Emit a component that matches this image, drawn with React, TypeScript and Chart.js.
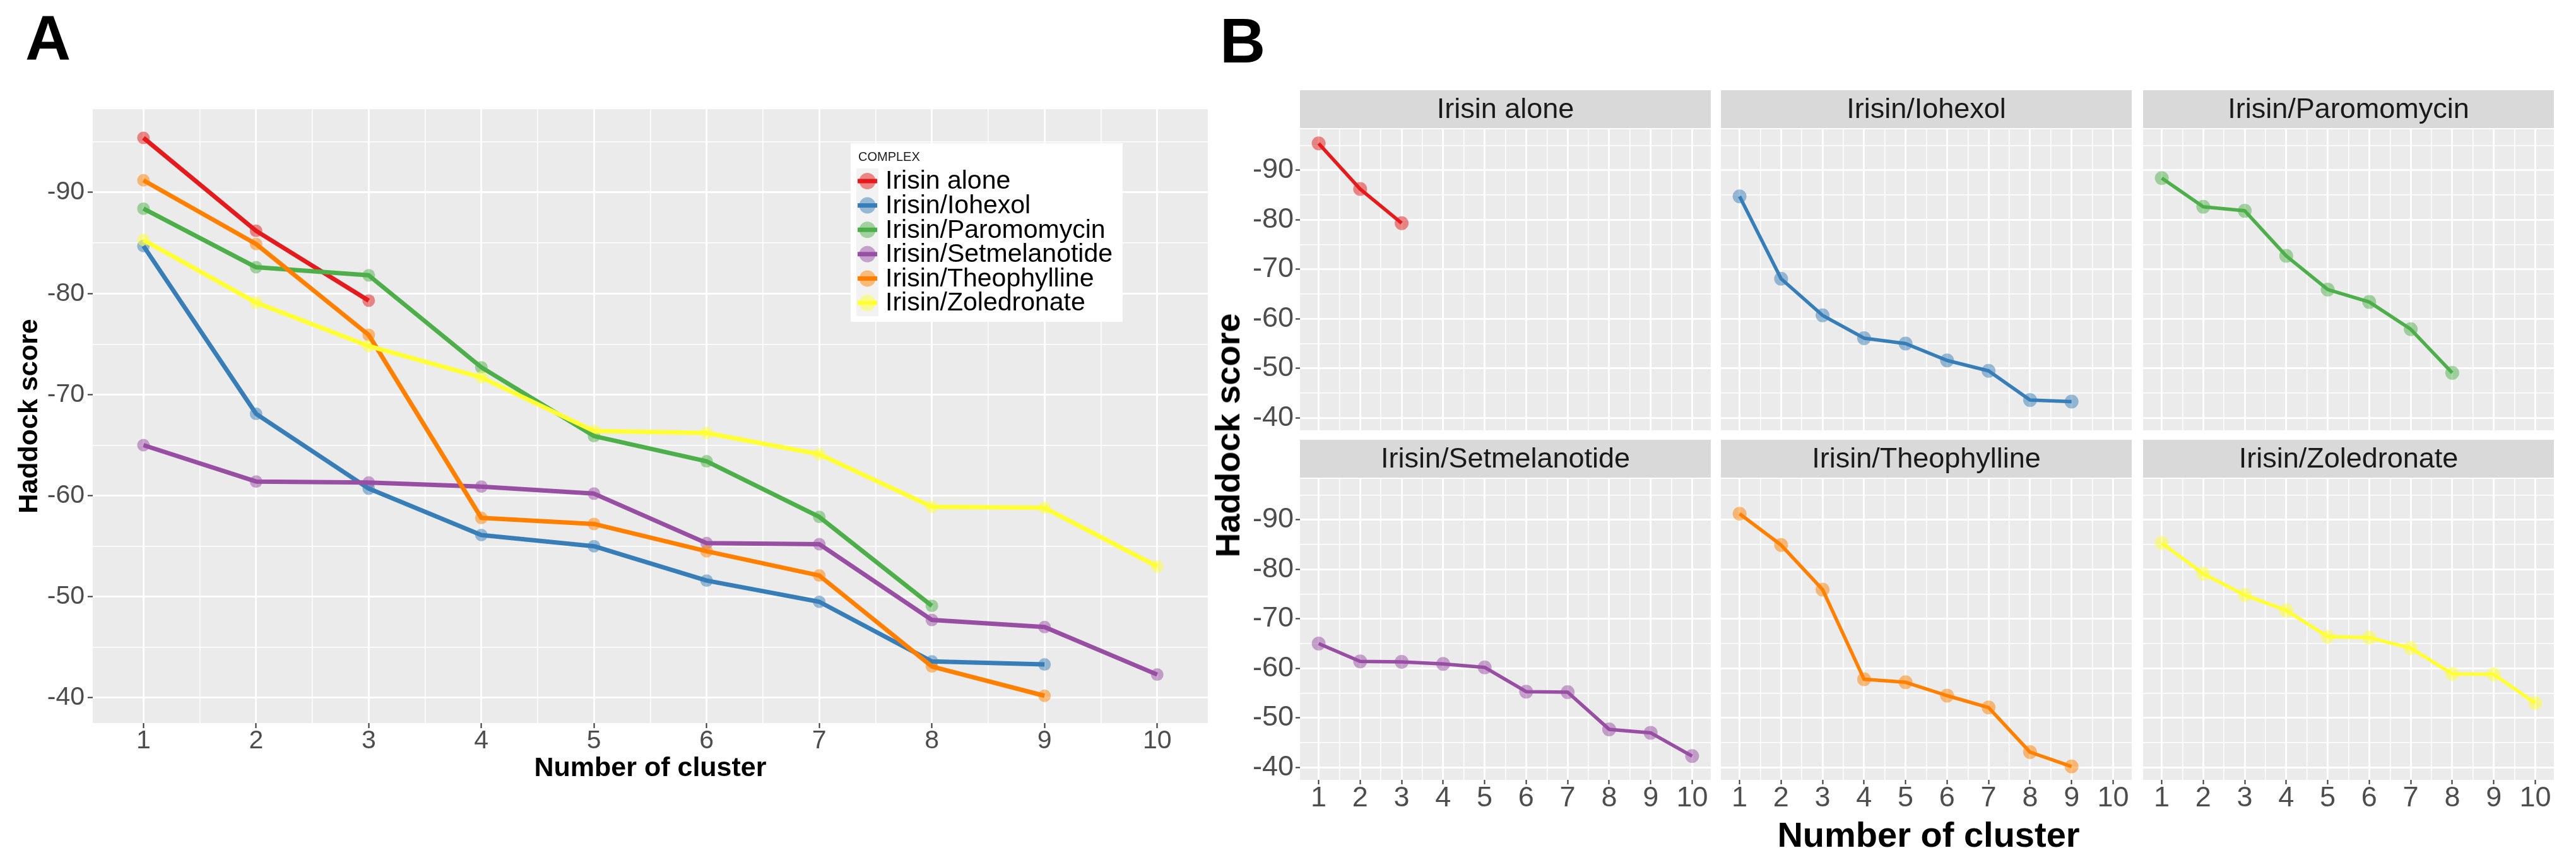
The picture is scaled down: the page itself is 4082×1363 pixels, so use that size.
import React, { useEffect, useRef } from 'react';
import { Chart, registerables } from 'chart.js';

Chart.register(...registerables);

// ---------------- data ----------------
const clusters = [1, 2, 3, 4, 5, 6, 7, 8, 9, 10];
const complexNames = [
  'Irisin alone',
  'Irisin/Iohexol',
  'Irisin/Paromomycin',
  'Irisin/Setmelanotide',
  'Irisin/Theophylline',
  'Irisin/Zoledronate',
];
const aloneScores = [-95.4, -86.2, -79.3];
const iohexolScores = [-84.7, -68.1, -60.7, -56.1, -55.0, -51.6, -49.5, -43.6, -43.3];
const paromomycinScores = [-88.4, -82.6, -81.8, -72.7, -65.9, -63.4, -57.9, -49.1];
const setmelanotideScores = [-65.0, -61.4, -61.3, -60.9, -60.2, -55.3, -55.2, -47.7, -47.0, -42.3];
const theophyllineScores = [-91.2, -84.9, -75.9, -57.8, -57.2, -54.5, -52.1, -43.1, -40.2];
const zoledronateScores = [-85.3, -79.1, -74.8, -71.7, -66.4, -66.2, -64.1, -58.9, -58.8, -53.0];

const xTickValues = [1, 1.5, 2, 2.5, 3, 3.5, 4, 4.5, 5, 5.5, 6, 6.5, 7, 7.5, 8, 8.5, 9, 9.5, 10];
const xMajorTicks = [1, 2, 3, 4, 5, 6, 7, 8, 9, 10];
const yTickValues = [-95, -90, -85, -80, -75, -70, -65, -60, -55, -50, -45, -40];
const yMajorTicks = [-90, -80, -70, -60, -50, -40];

const legendTitle = 'COMPLEX';
const xTitleText = 'Number of cluster';
const yTitleText = 'Haddock score';
const panelLetters = ['A', 'B'];

// ---------------- styling ----------------
const FONT = '"Liberation Sans", Arial, Helvetica, sans-serif';
const seriesScores = [aloneScores, iohexolScores, paromomycinScores, setmelanotideScores, theophyllineScores, zoledronateScores];
const seriesColors = ['#E41A1C', '#377EB8', '#4DAF4A', '#984EA3', '#FF7F00', '#FFFF33'];

const X_MIN = 0.55;
const X_MAX = 10.45;
const Y_MIN = -98.24;
const Y_MAX = -37.5;

const PAGE_W = 4082;
const PAGE_H = 1363;

// panel A layout
const A_CANVAS_W = 1960;
const A_LEFT = 147;
const A_TOP = 173;
const A_RIGHT = 1914;
const A_BOTTOM = 1146;

// panel B layout
const COL_LEFTS = [2060, 2727, 3396];
const ROW_TOPS = [205, 759];
const PANEL_W = 656;
const PANEL_H = 477;
const STRIP_H = 60;
const STRIP_GAP = 2;
const FACET_YAXIS_W = 120;
const FACET_XAXIS_H = 62;
const FACET_PAD_R = 6;

function withAlpha(hex: string, a: number) {
  const n = parseInt(hex.slice(1), 16);
  return `rgba(${(n >> 16) & 255},${(n >> 8) & 255},${n & 255},${a})`;
}

function toPoints(values: number[]) {
  return values.map((v, i) => ({ x: clusters[i], y: v }));
}

const isMajorX = (v: any) => xMajorTicks.includes(Number(v));
const isMajorY = (v: any) => yMajorTicks.includes(Number(v));

interface AxisStyle {
  tickSize: number;
  tickLen: number;
  xPad: number;
  yPad: number;
  showX: boolean;
  showY: boolean;
  xAxisH: number;
  yAxisW: number;
  xTitle?: any;
  yTitle?: any;
}

function buildScales(s: AxisStyle) {
  const tickFont = { family: FONT, size: s.tickSize, lineHeight: 1 };
  return {
    x: {
      type: 'linear',
      min: X_MIN,
      max: X_MAX,
      bounds: 'data',
      afterBuildTicks: (scale: any) => {
        scale.ticks = xTickValues.map((v) => ({ value: v }));
      },
      afterFit: (scale: any) => {
        scale.height = s.xAxisH;
      },
      ticks: {
        display: s.showX,
        autoSkip: false,
        maxRotation: 0,
        minRotation: 0,
        padding: s.xPad,
        color: '#4D4D4D',
        font: tickFont,
        callback: (v: any) => (isMajorX(v) ? String(v) : ''),
      },
      grid: {
        color: '#FFFFFF',
        lineWidth: (c: any) => (isMajorX(c.tick?.value) ? 3 : 1.5),
        drawTicks: s.showX,
        tickLength: s.tickLen,
        tickWidth: 2,
        tickColor: (c: any) => (isMajorX(c.tick?.value) ? '#333333' : 'rgba(0,0,0,0)'),
      },
      border: { display: false },
      title: s.xTitle || { display: false },
    },
    y: {
      type: 'linear',
      reverse: true,
      min: Y_MIN,
      max: Y_MAX,
      bounds: 'data',
      afterBuildTicks: (scale: any) => {
        scale.ticks = yTickValues.map((v) => ({ value: v }));
      },
      afterFit: (scale: any) => {
        scale.width = s.yAxisW;
      },
      ticks: {
        display: s.showY,
        autoSkip: false,
        padding: s.yPad,
        color: '#4D4D4D',
        font: tickFont,
        callback: (v: any) => (isMajorY(v) ? String(v) : ''),
      },
      grid: {
        color: '#FFFFFF',
        lineWidth: (c: any) => (isMajorY(c.tick?.value) ? 3 : 1.5),
        drawTicks: s.showY,
        tickLength: s.tickLen,
        tickWidth: 2,
        tickColor: (c: any) => (isMajorY(c.tick?.value) ? '#333333' : 'rgba(0,0,0,0)'),
      },
      border: { display: false },
      title: s.yTitle || { display: false },
    },
  };
}

const panelBgPlugin = {
  id: 'panelBg',
  beforeDraw(chart: any) {
    const { ctx, chartArea } = chart;
    ctx.save();
    ctx.fillStyle = '#EBEBEB';
    ctx.fillRect(chartArea.left, chartArea.top, chartArea.right - chartArea.left, chartArea.bottom - chartArea.top);
    ctx.restore();
  },
};

function makeStripPlugin(label: string) {
  return {
    id: 'facetStrip',
    beforeDraw(chart: any) {
      const { ctx, chartArea } = chart;
      const top = chartArea.top - STRIP_GAP - STRIP_H;
      ctx.save();
      ctx.fillStyle = '#D9D9D9';
      ctx.fillRect(chartArea.left, top, chartArea.right - chartArea.left, STRIP_H);
      ctx.fillStyle = '#1A1A1A';
      ctx.font = `45px ${FONT}`;
      ctx.textAlign = 'center';
      ctx.textBaseline = 'middle';
      ctx.fillText(label, (chartArea.left + chartArea.right) / 2, top + STRIP_H / 2 + 2);
      ctx.restore();
    },
  };
}

const legendPlugin = {
  id: 'complexLegend',
  afterDraw(chart: any) {
    const ctx = chart.ctx;
    const boxX = 1348;
    const boxY = 227;
    const boxW = 431;
    const boxH = 283;
    const keyX = 1357;
    const keyW = 35;
    const rowY0 = 287;
    const rowStep = 38.6;
    ctx.save();
    ctx.fillStyle = '#FFFFFF';
    ctx.fillRect(boxX, boxY, boxW, boxH);
    ctx.fillStyle = '#1A1A1A';
    ctx.font = `20px ${FONT}`;
    ctx.textAlign = 'left';
    ctx.textBaseline = 'middle';
    ctx.fillText(legendTitle, 1360, 249);
    ctx.fillStyle = '#F2F2F2';
    ctx.fillRect(keyX, 267, keyW, 234);
    complexNames.forEach((name, i) => {
      const cy = rowY0 + i * rowStep;
      const cx = keyX + keyW / 2;
      ctx.fillStyle = withAlpha(seriesColors[i], 0.5);
      ctx.beginPath();
      ctx.arc(cx, cy, 13, 0, Math.PI * 2);
      ctx.fill();
      ctx.strokeStyle = seriesColors[i];
      ctx.lineWidth = 7;
      ctx.lineCap = 'butt';
      ctx.beginPath();
      ctx.moveTo(keyX + 2, cy);
      ctx.lineTo(keyX + keyW - 2, cy);
      ctx.stroke();
      ctx.fillStyle = '#000000';
      ctx.font = `41px ${FONT}`;
      ctx.fillText(name, 1403, cy + 1);
    });
    ctx.restore();
  },
};

function panelAConfig(): any {
  const pointSets = seriesScores.map((vals, i) => ({
    type: 'line',
    label: complexNames[i] + ' points',
    data: toPoints(vals),
    showLine: false,
    pointRadius: 10,
    pointHoverRadius: 10,
    pointBorderWidth: 0,
    pointBackgroundColor: withAlpha(seriesColors[i], 0.5),
    order: 12 - i,
  }));
  const lineSets = seriesScores.map((vals, i) => ({
    type: 'line',
    label: complexNames[i],
    data: toPoints(vals),
    borderColor: seriesColors[i],
    borderWidth: 7,
    borderJoinStyle: 'round',
    borderCapStyle: 'butt',
    pointRadius: 0,
    pointHoverRadius: 0,
    tension: 0,
    fill: false,
    order: 6 - i,
  }));
  return {
    type: 'line',
    data: { datasets: [...pointSets, ...lineSets] },
    options: {
      responsive: false,
      animation: false,
      devicePixelRatio: 1,
      events: [],
      layout: { padding: { top: A_TOP, right: A_CANVAS_W - A_RIGHT, left: 0, bottom: 0 } },
      plugins: { legend: { display: false }, tooltip: { enabled: false } },
      scales: buildScales({
        tickSize: 41,
        tickLen: 8,
        xPad: 0,
        yPad: 5,
        showX: true,
        showY: true,
        xAxisH: PAGE_H - A_BOTTOM,
        yAxisW: A_LEFT,
        xTitle: {
          display: true,
          text: xTitleText,
          color: '#000000',
          font: { family: FONT, size: 43, weight: 'bold' },
          padding: { top: 0, bottom: 119 },
        },
        yTitle: {
          display: true,
          text: yTitleText,
          color: '#000000',
          font: { family: FONT, size: 43, weight: 'bold' },
          padding: { top: 21, bottom: 0 },
        },
      }),
    },
    plugins: [panelBgPlugin, legendPlugin],
  };
}

function facetConfig(i: number): any {
  const r = Math.floor(i / 3);
  const c = i % 3;
  return {
    type: 'line',
    data: {
      datasets: [
        {
          type: 'line',
          label: complexNames[i] + ' points',
          data: toPoints(seriesScores[i]),
          showLine: false,
          pointRadius: 11,
          pointHoverRadius: 11,
          pointBorderWidth: 0,
          pointBackgroundColor: withAlpha(seriesColors[i], 0.5),
          order: 2,
        },
        {
          type: 'line',
          label: complexNames[i],
          data: toPoints(seriesScores[i]),
          borderColor: seriesColors[i],
          borderWidth: 5.5,
          borderJoinStyle: 'round',
          borderCapStyle: 'butt',
          pointRadius: 0,
          pointHoverRadius: 0,
          tension: 0,
          fill: false,
          order: 1,
        },
      ],
    },
    options: {
      responsive: false,
      animation: false,
      devicePixelRatio: 1,
      events: [],
      layout: { padding: { top: STRIP_H + STRIP_GAP, right: FACET_PAD_R, left: 0, bottom: 0 } },
      plugins: { legend: { display: false }, tooltip: { enabled: false } },
      scales: buildScales({
        tickSize: 45,
        tickLen: 7,
        xPad: 0,
        yPad: 3,
        showX: r === 1,
        showY: c === 0,
        xAxisH: FACET_XAXIS_H,
        yAxisW: FACET_YAXIS_W,
      }),
    },
    plugins: [panelBgPlugin, makeStripPlugin(complexNames[i])],
  };
}

export default function App() {
  const aRef = useRef<HTMLCanvasElement | null>(null);
  const facetRefs = useRef<(HTMLCanvasElement | null)[]>([]);

  useEffect(() => {
    document.body.style.margin = '0';
    document.body.style.overflow = 'hidden';
    const charts: Chart[] = [];
    if (aRef.current) charts.push(new Chart(aRef.current, panelAConfig()));
    facetRefs.current.forEach((cv, i) => {
      if (cv) charts.push(new Chart(cv, facetConfig(i)));
    });
    return () => {
      charts.forEach((ch) => ch.destroy());
    };
  }, []);

  const facetW = FACET_YAXIS_W + PANEL_W + FACET_PAD_R;
  const facetH = STRIP_H + STRIP_GAP + PANEL_H + FACET_XAXIS_H;

  return (
    <div
      style={{
        position: 'absolute',
        left: 0,
        top: 0,
        width: PAGE_W,
        height: PAGE_H,
        background: '#FFFFFF',
        overflow: 'hidden',
        fontFamily: FONT,
      }}
    >
      <canvas
        ref={aRef}
        width={A_CANVAS_W}
        height={PAGE_H}
        style={{ position: 'absolute', left: 0, top: 0, width: A_CANVAS_W, height: PAGE_H }}
      />
      {complexNames.map((name, i) => {
        const r = Math.floor(i / 3);
        const c = i % 3;
        const left = COL_LEFTS[c] - FACET_YAXIS_W;
        const top = ROW_TOPS[r] - STRIP_H - STRIP_GAP;
        return (
          <canvas
            key={name}
            ref={(el) => {
              facetRefs.current[i] = el;
            }}
            width={facetW}
            height={facetH}
            style={{ position: 'absolute', left, top, width: facetW, height: facetH }}
          />
        );
      })}
      <div
        style={{
          position: 'absolute',
          left: 40,
          top: 10,
          fontSize: 100,
          fontWeight: 'bold',
          lineHeight: '100px',
          color: '#000',
        }}
      >
        {panelLetters[0]}
      </div>
      <div
        style={{
          position: 'absolute',
          left: 1933,
          top: 14,
          fontSize: 100,
          fontWeight: 'bold',
          lineHeight: '100px',
          color: '#000',
        }}
      >
        {panelLetters[1]}
      </div>
      <div
        style={{
          position: 'absolute',
          left: 3056,
          top: 1323,
          transform: 'translate(-50%, -50%)',
          fontSize: 56,
          fontWeight: 'bold',
          lineHeight: '56px',
          whiteSpace: 'nowrap',
          color: '#000',
        }}
      >
        {xTitleText}
      </div>
      <div
        style={{
          position: 'absolute',
          left: 1945,
          top: 690,
          transform: 'translate(-50%, -50%) rotate(-90deg)',
          fontSize: 54,
          fontWeight: 'bold',
          lineHeight: '54px',
          whiteSpace: 'nowrap',
          color: '#000',
        }}
      >
        {yTitleText}
      </div>
    </div>
  );
}
